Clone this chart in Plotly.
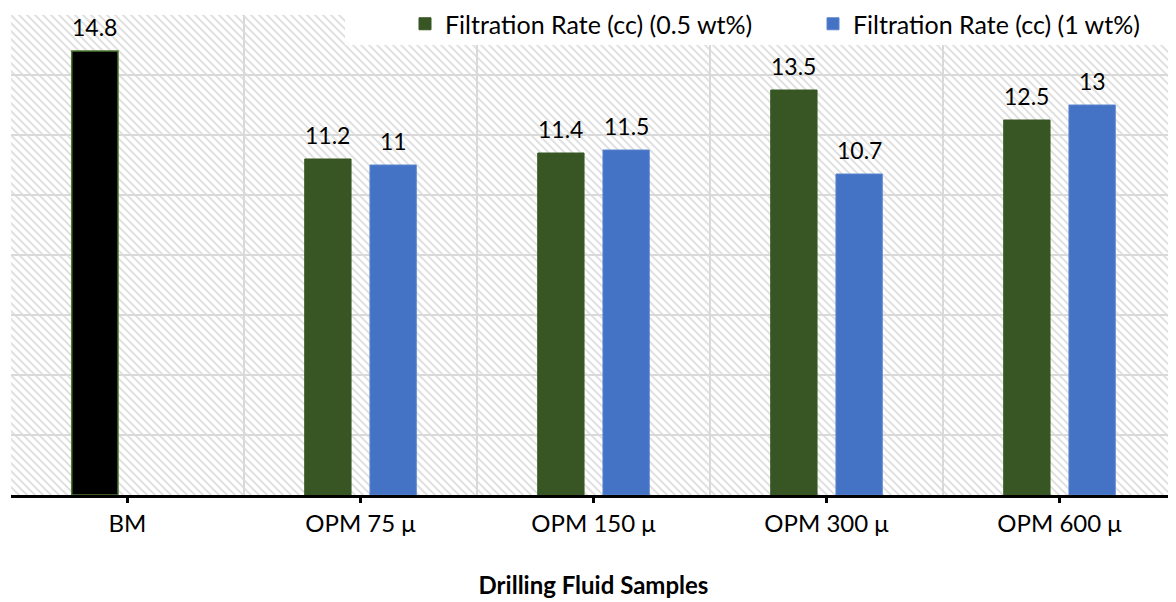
import base64
import plotly.graph_objects as go

categories = ['BM', 'OPM 75 μ', 'OPM 150 μ', 'OPM 300 μ', 'OPM 600 μ']
rate_05 = [14.8, 11.2, 11.4, 13.5, 12.5]
rate_1 = [None, 11, 11.5, 10.7, 13]
series_names = ['Filtration Rate (cc) (0.5 wt%)', 'Filtration Rate (cc) (1 wt%)']
x_title = 'Drilling Fluid Samples'

GREEN = '#375623'
BLUE = '#4472C4'
GRID = '#d9d9d9'
FONT = 'Lato'
BARGAP = 0.44
# the page puts the figure 8px in from the corner, so size it to end at the window edge
W, H = 1168, 594
M = dict(l=3, r=0, t=7, b=107, autoexpand=False)

pos = list(range(len(categories)))
pw, ph = W - M['l'] - M['r'], H - M['t'] - M['b']

# hatched plot background (excel style downward diagonal fill)
svg = (f"<svg xmlns='http://www.w3.org/2000/svg' width='{pw}' height='{ph}'>"
       "<defs><pattern id='h' width='8' height='8' patternUnits='userSpaceOnUse'>"
       "<path d='M-2,-2 L10,10 M-2,6 L2,10 M6,-2 L10,2' stroke='#e1e1e1' stroke-width='2'/>"
       "</pattern></defs><rect width='100%' height='100%' fill='url(#h)'/></svg>")
hatch = 'data:image/svg+xml;base64,' + base64.b64encode(svg.encode()).decode()

fig = go.Figure()
# base mud bar sits in the 0.5 wt% slot but is drawn black
fig.add_trace(go.Bar(x=pos[:1], y=rate_05[:1], offsetgroup='a', showlegend=False,
                     marker=dict(color='black', line=dict(color='#4e7a30', width=1.5))))
fig.add_trace(go.Bar(x=pos[1:], y=rate_05[1:], offsetgroup='a', name=series_names[0],
                     marker=dict(color=GREEN, line=dict(color=GREEN, width=1))))
fig.add_trace(go.Bar(x=pos, y=rate_1, offsetgroup='b', name=series_names[1],
                     marker=dict(color=BLUE, line=dict(color='#5b85cf', width=1))))

# value labels above each bar
slot = (1 - BARGAP) / 2
for s, vals in enumerate([rate_05, rate_1]):
    for i, v in zip(pos, vals):
        if v is None:
            continue
        fig.add_annotation(x=i + (s - 0.5) * slot, y=v, text=f'{v:g}', showarrow=False,
                           yanchor='bottom', yshift=8, font=dict(family=FONT, size=23, color='black'))

# white box behind the legend
fig.add_shape(type='rect', xref='paper', yref='paper', x0=(337 - M['l']) / pw, x1=1,
              y0=1 - 30 / ph, y1=1 + (M['t'] + 2) / ph, fillcolor='white', line_width=0, layer='above')

fig.update_layout(
    width=W, height=H, margin=M,
    paper_bgcolor='white', plot_bgcolor='white',
    barmode='group', bargap=BARGAP, bargroupgap=0.29,
    font=dict(family=FONT, size=24, color='black'),
    images=[dict(source=hatch, xref='paper', yref='paper', x=0, y=1, sizex=1, sizey=1,
                 sizing='stretch', xanchor='left', yanchor='top', layer='below')],
    legend=dict(orientation='h', x=(397 - M['l']) / pw, xanchor='left',
                y=(ph + M['t'] - 16) / ph, yanchor='middle',
                bgcolor='rgba(0,0,0,0)', font=dict(size=25), itemwidth=30,
                entrywidth=363, traceorder='normal'),
    showlegend=True,
)
fig.update_xaxes(
    range=[-0.5, 4.5], tickvals=pos, ticktext=categories, showgrid=False,
    ticks='outside', ticklen=5, tickwidth=3, tickcolor='black',
    showline=True, linecolor='black', linewidth=3, zeroline=False,
    minor=dict(tickvals=[p - 0.5 for p in pos] + [pos[-1] + 0.5], showgrid=True,
               gridcolor=GRID, gridwidth=2, ticks=''),
    title=dict(text=f'<b>{x_title}</b>', font=dict(size=24), standoff=42),
)
fig.update_yaxes(range=[0, 16], dtick=2, showticklabels=False, showgrid=True,
                 gridcolor=GRID, gridwidth=2, zeroline=False)

fig.write_html('out.html')
